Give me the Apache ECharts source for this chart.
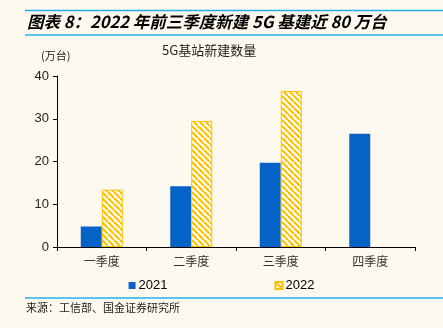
<!DOCTYPE html>
<html><head><meta charset="utf-8">
<script src="https://cdn.jsdelivr.net/npm/echarts@6/dist/echarts.min.js"></script>
<style>html,body{margin:0;padding:0;background:#FEF9EF;}#c{width:443px;height:328px;}</style>
</head><body><div id="c"></div>
<script>
var categories = ['一季度','二季度','三季度','四季度'];
var values2021 = [4.8, 14.2, 19.7, 26.5];
var values2022 = [13.4, 29.5, 36.5, null];
var yTicks = [0, 10, 20, 30, 40];
var seriesNames = ['2021','2022'];

function makePattern(){
  var c = document.createElement('canvas');
  c.width = 6; c.height = 6;
  var g = c.getContext('2d');
  g.fillStyle = '#FFFFFF'; g.fillRect(0,0,6,6);
  g.strokeStyle = '#FFC000'; g.lineWidth = 2.2;
  for (var k=-6;k<=12;k+=6){
    g.beginPath(); g.moveTo(k,0); g.lineTo(k+6,6); g.stroke();
  }
  return c;
}
var pat = {image: makePattern(), repeat: 'repeat'};
var cjk = '"Noto Sans CJK SC", sans-serif';
var num = '"Liberation Sans", Arial, sans-serif';

var chart = echarts.init(document.getElementById('c'), null, {renderer:'canvas'});
chart.setOption({
  backgroundColor: '#FEF9EF',
  animation: false,
  grid: {left: 57, right: 28, top: 76, bottom: 81},
  xAxis: {
    type: 'category', data: categories,
    axisLine: {lineStyle: {color: '#000', width: 1}},
    axisTick: {show: true, length: 4, inside: false, lineStyle:{color:'#000'}},
    axisLabel: {color: '#333', fontSize: 12, fontFamily: cjk, margin: 8}
  },
  yAxis: {
    type: 'value', min: yTicks[0], max: yTicks[yTicks.length-1], interval: 10,
    splitLine: {show: false},
    axisLine: {show: true, lineStyle: {color: '#000', width: 1}},
    axisTick: {show: true, length: 4, lineStyle:{color:'#000'}},
    axisLabel: {color: '#222', fontSize: 13, fontFamily: num, margin: 8}
  },
  legend: {
    data: seriesNames, bottom: 31, left: 'center', itemGap: 107,
    icon: 'rect', itemWidth: 7, itemHeight: 7,
    textStyle: {fontSize: 13, fontFamily: num, color: '#000', padding:[0,0,0,-2]}
  },
  series: [
    {name: seriesNames[0], type: 'bar', data: values2021, barWidth: 21, barGap: '0%',
     itemStyle: {color: '#0563C8'}},
    {name: seriesNames[1], type: 'bar', data: values2022, barWidth: 21, barGap: '0%',
     itemStyle: {color: pat, borderColor: '#FFC000', borderWidth: 1}}
  ],
  graphic: [
    {type:'line', shape:{x1:25,y1:10.5,x2:443,y2:10.5}, style:{stroke:'#1FB0EE', lineWidth:1.5}},
    {type:'line', shape:{x1:25,y1:35,x2:443,y2:35}, style:{stroke:'#1FB0EE', lineWidth:1.5}},
    {type:'line', shape:{x1:25,y1:298,x2:443,y2:298}, style:{stroke:'#1FB0EE', lineWidth:1.5}},
    {type:'text', left: 27, top: 13, style:{text:'图表 8：2022 年前三季度新建 5G 基建近 80 万台', font:'italic bold 16.5px "Noto Sans CJK SC", sans-serif', fill:'#000'}},
    {type:'text', left: 41, top: 50, style:{text:'(万台)', font:'11px "Noto Sans CJK SC", sans-serif', fill:'#222'}},
    {type:'text', left: 162, top: 44, style:{text:'5G基站新建数量', font:'13px "Noto Sans CJK SC", sans-serif', fill:'#222'}},
    {type:'text', left: 26, top: 302, style:{text:'来源：工信部、国金证券研究所', font:'11px "Noto Sans CJK SC", sans-serif', fill:'#222'}}
  ]
});
</script></body></html>
